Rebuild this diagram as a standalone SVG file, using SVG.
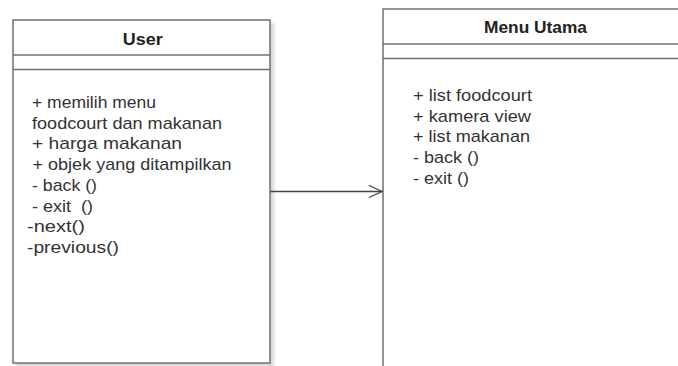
<svg xmlns="http://www.w3.org/2000/svg" width="678" height="366" viewBox="0 0 678 366">
  <defs>
    <filter id="shadow" x="-10%" y="-10%" width="130%" height="130%">
      <feGaussianBlur stdDeviation="1.5"/>
    </filter>
    <marker id="open-arrow" markerWidth="16" markerHeight="14" refX="14" refY="7" orient="auto" markerUnits="userSpaceOnUse">
      <path d="M1,1 L14,7 L1,13" fill="none" stroke="#444" stroke-width="1.3"/>
    </marker>
  </defs>
  <style>
    .box { fill: #ffffff; stroke: #707070; stroke-width: 1.5; }
    .shade { fill: #d9d9d9; filter: url(#shadow); }
    .sep { stroke: #707070; stroke-width: 1.5; }
    .title { font-family: "Liberation Sans", Arial, sans-serif; font-size: 17px; font-weight: bold; fill: #222; }
    .member { font-family: "Liberation Sans", Arial, sans-serif; font-size: 17px; fill: #333; white-space: pre; }
    .link { stroke: #444; stroke-width: 1.4; fill: none; }
  </style>
  <rect width="678" height="366" fill="#ffffff"/>

  <!-- class: User -->
  <g id="user">
    <rect class="shade" x="16" y="23" width="258" height="344"/>
    <rect class="box" x="13" y="20" width="257" height="343"/>
    <line class="sep" x1="13" y1="55" x2="270" y2="55"/>
    <line class="sep" x1="13" y1="69.5" x2="270" y2="69.5"/>
    <text class="title" x="122.7" y="44.5" textLength="40" lengthAdjust="spacingAndGlyphs">User</text>
    <text class="member" x="32" y="108" textLength="124" lengthAdjust="spacingAndGlyphs">+ memilih menu</text>
    <text class="member" x="32" y="128.7" textLength="190" lengthAdjust="spacingAndGlyphs">foodcourt dan makanan</text>
    <text class="member" x="32" y="149.4" textLength="150" lengthAdjust="spacingAndGlyphs">+ harga makanan</text>
    <text class="member" x="32.5" y="170" textLength="199" lengthAdjust="spacingAndGlyphs">+ objek yang ditampilkan</text>
    <text class="member" x="32" y="190.8" textLength="65" lengthAdjust="spacingAndGlyphs">- back ()</text>
    <text class="member" x="32" y="211.5" textLength="61" lengthAdjust="spacingAndGlyphs">- exit  ()</text>
    <text class="member" x="27" y="232" textLength="58" lengthAdjust="spacingAndGlyphs">-next()</text>
    <text class="member" x="27" y="253" textLength="92" lengthAdjust="spacingAndGlyphs">-previous()</text>
  </g>

  <!-- class: Menu Utama -->
  <g id="menu-utama">
    <rect class="shade" x="386" y="12" width="300" height="370"/>
    <rect class="box" x="383" y="9" width="300" height="370"/>
    <line class="sep" x1="383" y1="44" x2="683" y2="44"/>
    <line class="sep" x1="383" y1="58.5" x2="683" y2="58.5"/>
    <text class="title" x="484" y="33.3" textLength="103" lengthAdjust="spacingAndGlyphs">Menu Utama</text>
    <text class="member" x="413" y="100.7" textLength="119" lengthAdjust="spacingAndGlyphs">+ list foodcourt</text>
    <text class="member" x="413" y="121.7" textLength="118" lengthAdjust="spacingAndGlyphs">+ kamera view</text>
    <text class="member" x="413" y="142.3" textLength="117" lengthAdjust="spacingAndGlyphs">+ list makanan</text>
    <text class="member" x="413" y="163.3" textLength="66" lengthAdjust="spacingAndGlyphs">- back ()</text>
    <text class="member" x="413" y="184.3" textLength="56" lengthAdjust="spacingAndGlyphs">- exit ()</text>
  </g>

  <!-- association -->
  <g id="connectors">
    <line class="link" x1="270.5" y1="191.5" x2="382" y2="191.5" marker-end="url(#open-arrow)"/>
  </g>
</svg>
